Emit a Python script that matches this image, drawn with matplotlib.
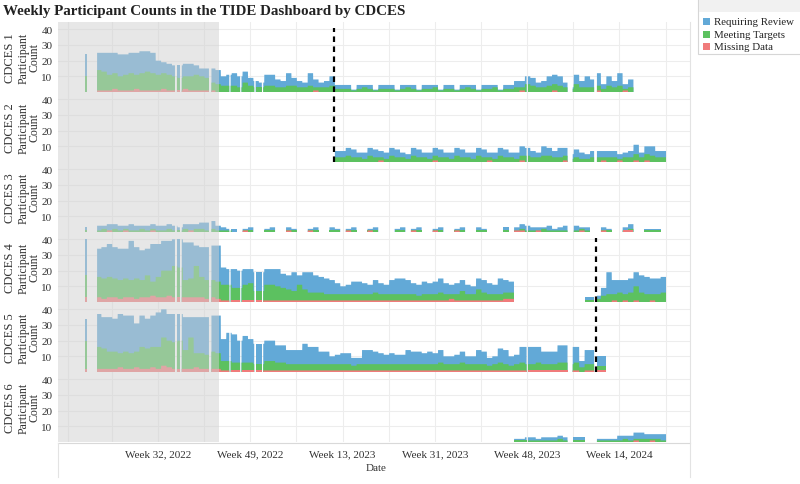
import numpy as np
import matplotlib.pyplot as plt
from matplotlib.patches import Rectangle
from matplotlib.lines import Line2D

plt.rcParams['font.family'] = ['Liberation Serif', 'DejaVu Serif']

# x axis is in weeks counted from the left edge of the view
tick_weeks = [18.4, 35.4, 52.4, 69.4, 86.4, 103.4]
tick_labels = ['Week 32, 2022', 'Week 49, 2022', 'Week 13, 2023',
               'Week 31, 2023', 'Week 48, 2023', 'Week 14, 2024']
grid_weeks = [1.9, 9.9, 18.4, 26.9, 35.4, 43.9, 52.4, 60.9, 69.4, 77.9,
              86.4, 94.9, 103.4, 111.9]
shaded_until = 29.6
# periods without any records (start, end) in weeks
gaps = [(5.35, 7.2), (21.55, 21.9), (22.45, 22.8), (27.8, 28.25), (31.55, 31.8),
        (33.55, 33.8), (36.15, 36.4), (37.55, 37.8), (86.3, 86.55),
        (93.85, 94.8), (98.75, 99.25)]
event_panels = [1, 2, 4, 5]
event_weeks = [50.9, 50.9, 99.1, 99.1]

N = None
# CDCES 1, weekly values from week 5
p1_start = 5
p1_review = [14, N, 11, 12, 14, 13, 14, 13, 13, 14,
             14, 13, 13, 9, 7, 7, 7, 8, 8, 8,
             6, 5, 6, 9, 9, 6, 7, 8, 7, 7,
             5, 4, 3, 7, 7, 5, 4, 8, 5, 4,
             3, 8, 5, 3, 4, 6, 2.5, 2.5, 2.5, 0.5,
             2.5, 1.5, 2.5, 0.5, 2.5, 2.5, 2.5, 0.5, 2.5, 1.5,
             2.5, 0.5, 2.5, 2.5, 1.5, 0.5, 2.5, 2.5, 0.5, 2.5,
             1.5, 2.5, 0.5, 2.5, 2.5, 1.5, 0.5, 2.5, 2.5, 4,
             4, 5, 5, 3, 4, 6, 6, 6, 3, 1,
             6, 4, 7, 5, 8, 3, 6, 4, 8, 3,
             5]
p1_meeting = [10, N, 13, 12, 10, 10, 9, 10, 11, 9,
              11, 12, 11, 10, 10, 10, 9, 8, 8, 9,
              10, 9, 8, 5, 5, 4, 4, 4, 3, 6,
              4, 3, 3, 4, 4, 3, 3, 4, 4, 3,
              3, 4, 2, 3, 3, 4, 2, 2, 2, 1,
              2, 3, 2, 1, 2, 2, 2, 1, 2, 3,
              2, 1, 2, 2, 3, 1, 2, 2, 1, 2,
              3, 2, 1, 2, 2, 3, 1, 2, 2, 3,
              2, 5, 4, 3, 3, 4, 4, 4, 3, 2,
              5, 3, 3, 3, 3, 2, 4, 3, 4, 1,
              3]
p1_missing = [0, N, 1, 1, 1, 2, 1, 1, 1, 2,
              1, 1, 1, 1, 2, 1, 1, 1, 2, 1,
              1, 1, 1, 1, 0, 0, 0, 0, 0, 0,
              0, 0, 0, 0, 0, 0, 0, 0, 0, 0,
              0, 0, 1, 0, 0, 0, 0, 0, 0, 0,
              0, 0, 0, 0, 0, 0, 0, 0, 0, 0,
              0, 0, 0, 0, 0, 0, 0, 0, 0, 0,
              0, 0, 0, 0, 0, 0, 0, 0, 0, 0,
              1, 0, 0, 0, 0, 0, 1, 0, 0, 0,
              0, 0, 0, 0, 1, 0, 0, 0, 0, 1,
              0]

# CDCES 2, from week 51
p2_start = 51
p2_review = [4, 4, 5, 5, 3, 4, 5, 5, 4, 4,
             5, 5, 3, 3, 5, 5, 3, 4, 5, 5,
             3, 4, 5, 5, 3, 4, 5, 5, 3, 4,
             5, 5, 3, 4, 6, 5, 4, 3, 6, 5,
             4, 6, 5, 3, 5, 4, 3, 4, 4, 4,
             4, 4, 3, 3, 4, 6, 3, 5, 6, 4, 4]
p2_meeting = [3, 3, 4, 3, 3, 2, 4, 3, 2, 2,
              4, 3, 3, 2, 4, 3, 3, 2, 3, 3,
              3, 2, 4, 3, 3, 2, 4, 3, 2, 2,
              4, 3, 3, 2, 3, 4, 3, 3, 4, 4,
              3, 3, 3, 2, 3, 2, 2, 3, 3, 2,
              3, 3, 1, 3, 3, 4, 3, 4, 4, 3, 3]
p2_missing = [0, 0, 0, 0, 0, 0, 0, 0, 1, 0,
              0, 0, 0, 0, 0, 0, 0, 0, 1, 0,
              0, 0, 0, 0, 0, 0, 0, 0, 1, 0,
              0, 0, 0, 0, 1, 0, 0, 0, 0, 0,
              0, 0, 1, 0, 0, 0, 0, 0, 0, 1,
              0, 0, 1, 0, 0, 1, 0, 1, 0, 0, 0]

# CDCES 3, from week 5
p3_start = 5
p3_review = [2, N, 3, 2, 4, 3, 3, 2, 4, 3,
             2, 3, 3, 3, 3, 3, 3, 2, 3, 4,
             3, 4, 5, 5, 3, 2, 1, 2, N, 1,
             2, N, N, 1, 2, N, N, 2, 1, N,
             N, 1, 2, N, N, 2, 1, N, 1, 2,
             N, N, 1, 2, N, N, N, 1, 2, N,
             1, 2, N, N, 1, 2, N, N, 1, 2,
             N, N, 2, 1, N, N, N, 2, N, 2,
             3, 3, 2, 2, 1, 3, 1, 2, 3, N,
             3, 1, 2, N, N, 2, 1, N, N, 2,
             3, N, N, 1, 1, 1]
p3_meeting = [1, N, 1, 2, 0, 2, 1, 1, 1, 1,
              2, 1, 1, 1, 1, 2, 1, 1, 2, 0,
              2, 2, 1, 2, 1, 1, 1, 0, N, 0,
              1, N, N, 1, 1, N, N, 0, 1, N,
              N, 0, 1, N, N, 1, 1, N, 0, 1,
              N, N, 0, 1, N, N, N, 1, 1, N,
              0, 1, N, N, 0, 1, N, N, 0, 1,
              N, N, 1, 1, N, N, N, 1, N, 0,
              1, 1, 1, 0, 2, 1, 1, 1, 1, N,
              1, 1, 1, N, N, 0, 1, N, N, 0,
              1, N, N, 1, 1, 1]
p3_missing = [0, N, 0, 0, 1, 0, 0, 1, 0, 0,
              0, 0, 1, 0, 0, 0, 0, 0, 0, 1,
              0, 0, 0, 0, 0, 0, 0, 0, N, 1,
              0, N, N, 0, 0, N, N, 1, 0, N,
              N, 1, 0, N, N, 0, 0, N, 1, 0,
              N, N, 1, 0, N, N, N, 0, 0, N,
              1, 0, N, N, 1, 0, N, N, 1, 0,
              N, N, 0, 0, N, N, N, 0, N, 1,
              1, 0, 0, 1, 0, 0, 0, 0, 0, N,
              0, 1, 0, N, N, 1, 0, N, N, 1,
              1, N, N, 0, 0, 0]

# CDCES 4, from week 5
p4_start = 5
p4_review = [23, N, 18, 20, 21, 20, 20, 19, 25, 20,
             19, 17, 24, 21, 19, 19, 17, 18, 24, 23,
             13, 19, 21, 22, 23, 11, 10, 12, 11, 10,
             9, 12, 12, 10, 10, 11, 9, 9, 12, 6,
             11, 13, 11, 10, 10, 9, 7, 5, 6, 8,
             8, 7, 6, 8, 7, 6, 9, 10, 10, 9,
             7, 7, 8, 7, 8, 9, 7, 6, 7, 7,
             6, 5, 7, 8, 7, 6, 10, 8, 7, N,
             N, N, N, N, N, N, N, N, N, N,
             N, N, 2, 2, 2, 5, 14, 9, 8, 9,
             9, 9, 11, 11, 10, 10, 10]
p4_meeting = [14, N, 13, 13, 13, 12, 12, 12, 11, 13,
              11, 14, 9, 13, 17, 16, 20, 19, 11, 12,
              20, 13, 12, 11, 11, 10, 10, 8, 8, 10,
              11, 6, 6, 10, 10, 9, 8, 7, 6, 10,
              7, 5, 5, 5, 4, 4, 4, 4, 4, 4,
              4, 4, 4, 5, 4, 4, 4, 4, 4, 4,
              4, 3, 4, 4, 4, 5, 4, 3, 4, 6,
              4, 4, 7, 5, 4, 4, 4, 4, 4, N,
              N, N, N, N, N, N, N, N, N, N,
              N, N, 1, 1, 2, 4, 5, 4, 6, 4,
              6, 9, 6, 5, 4, 5, 6]
p4_missing = [3, N, 3, 2, 3, 3, 2, 3, 3, 2,
              3, 3, 4, 3, 3, 4, 3, 3, 3, 3,
              3, 3, 2, 3, 2, 1, 1, 1, 1, 1,
              1, 1, 1, 1, 1, 1, 1, 1, 1, 1,
              1, 1, 1, 1, 1, 1, 1, 1, 1, 1,
              1, 1, 1, 1, 1, 1, 1, 1, 1, 1,
              1, 1, 1, 1, 1, 1, 1, 2, 1, 1,
              1, 1, 1, 1, 1, 1, 1, 2, 2, N,
              N, N, N, N, N, N, N, N, N, N,
              N, N, 0, 0, 0, 0, 0, 1, 0, 1,
              0, 1, 0, 0, 1, 0, 0]

# CDCES 5, from week 5
p5_start = 5
p5_review = [14, N, 21, 20, 22, 21, 25, 23, 24, 18,
             20, 19, 20, 22, 18, 17, 18, 17, 21, 13,
             23, 23, 24, 23, 24, 14, 18, 18, 14, 17,
             15, 13, 13, 13, 13, 11, 11, 9, 9, 9,
             13, 11, 11, 8, 8, 5, 6, 7, 7, 5,
             4, 9, 9, 8, 7, 6, 7, 6, 6, 9,
             8, 8, 7, 8, 7, 8, 5, 5, 6, 7,
             5, 5, 9, 8, 5, 5, 9, 9, 6, 6,
             10, 11, 11, 10, 8, 8, 8, 11, 11, 11,
             10, 4, 9, 9, 6, 6]
p5_meeting = [18, N, 14, 13, 11, 11, 9, 11, 10, 10,
              14, 13, 13, 14, 18, 17, 17, 18, 12, 20,
              9, 10, 9, 11, 10, 6, 6, 5, 5, 5,
              5, 4, 4, 6, 6, 5, 5, 4, 4, 4,
              4, 4, 4, 4, 4, 4, 4, 4, 4, 3,
              4, 4, 4, 4, 4, 4, 4, 4, 4, 4,
              4, 4, 4, 4, 4, 5, 4, 4, 4, 5,
              4, 4, 4, 4, 3, 4, 5, 4, 3, 4,
              5, 4, 4, 5, 4, 4, 4, 5, 5, 4,
              5, 3, 4, 4, 3, 3]
p5_missing = [2, N, 2, 2, 2, 2, 3, 2, 2, 3,
              2, 2, 3, 2, 4, 3, 2, 2, 2, 2,
              3, 2, 2, 2, 2, 1, 1, 1, 1, 1,
              1, 1, 1, 1, 1, 1, 1, 1, 1, 1,
              1, 1, 1, 1, 1, 1, 1, 1, 1, 1,
              1, 1, 1, 1, 1, 1, 1, 1, 1, 1,
              1, 1, 1, 1, 1, 1, 1, 1, 1, 1,
              1, 1, 1, 1, 1, 1, 1, 1, 1, 1,
              1, 1, 1, 1, 1, 1, 1, 1, 1, 1,
              1, 0, 1, 1, 1, 1]

# CDCES 6, from week 84
p6_start = 84
p6_review = [1, 1, 2, 2, 1, 2, 2, 2, 2, 2, 2, 2, 2, N, N,
             1, 1, 1, 1, 3, 2, 3, 4, 4, 3, 3, 3, 4]
p6_meeting = [1, 1, 1, 1, 1, 1, 1, 1, 2, 1, 1, 1, 1, N, N,
              1, 1, 1, 1, 1, 2, 1, 1, 2, 2, 1, 2, 1]
p6_missing = [0, 0, 0, 0, 0, 0, 0, 0, 0, 0, 0, 0, 0, N, N,
              0, 0, 0, 0, 0, 0, 0, 1, 0, 0, 1, 0, 0]

panels = [
    ('CDCES 1', p1_start, p1_review, p1_meeting, p1_missing),
    ('CDCES 2', p2_start, p2_review, p2_meeting, p2_missing),
    ('CDCES 3', p3_start, p3_review, p3_meeting, p3_missing),
    ('CDCES 4', p4_start, p4_review, p4_meeting, p4_missing),
    ('CDCES 5', p5_start, p5_review, p5_meeting, p5_missing),
    ('CDCES 6', p6_start, p6_review, p6_meeting, p6_missing),
]

c_review = '#62a9d7'
c_meeting = '#5cc160'
c_missing = '#f07b7b'

W, H = 800, 485
XMAX = 116.4
YMAX = 44.66

xs = np.arange(0, XMAX, 0.02)
gap_mask = np.zeros(xs.shape, dtype=bool)
for a, b in gaps:
    gap_mask |= (xs > a) & (xs < b)


def weekly(vals, start):
    arr = np.array(vals, dtype=float)
    idx = np.floor(xs + 1e-9).astype(int) - start
    out = np.full(xs.shape, np.nan)
    ok = (idx >= 0) & (idx < len(arr))
    out[ok] = arr[idx[ok]]
    out[gap_mask] = np.nan
    return out


def fx(px):
    return px / W


def fy(py):
    return 1 - py / H


fig = plt.figure(figsize=(8, 4.85), dpi=100)

for i, (name, start, review, meeting, missing) in enumerate(panels):
    top = 23 + 70 * i
    ax = fig.add_axes([fx(58), fy(top + 70), 632 / W, 70 / H])
    miss = weekly(missing, start)
    meet = miss + weekly(meeting, start)
    tot = meet + weekly(review, start)
    zero = np.zeros_like(xs)
    ax.fill_between(xs, zero, tot, color=c_review, lw=0, zorder=2)
    ax.fill_between(xs, zero, meet, color=c_meeting, lw=0, zorder=2)
    ax.fill_between(xs, zero, miss, color=c_missing, lw=0, zorder=2)

    for g in grid_weeks:
        ax.axvline(g, color='#ededed', lw=0.8, zorder=0)
    for yv in [10, 20, 30, 40]:
        ax.axhline(yv, color='#ededed', lw=0.8, zorder=0)

    ax.axvspan(0, shaded_until, facecolor='#d0d0d0', alpha=0.5, lw=0, zorder=3)

    for pnl, wk in zip(event_panels, event_weeks):
        if pnl == i + 1:
            ymax = 0.92 if pnl in (1, 4) else 1.0
            ax.axvline(wk, ymin=0, ymax=ymax, color='black', lw=1.6,
                       ls=(0, (2.5, 2)), zorder=4)

    ax.set_xlim(0, XMAX)
    ax.set_ylim(0, YMAX)
    ax.set_yticks([10, 20, 30, 40])
    ax.set_yticklabels(['10', '20', '30', '40'], fontsize=8, color='#333333')
    ax.tick_params(axis='y', length=0, pad=4)
    if i == len(panels) - 1:
        ax.set_xticks(tick_weeks)
        ax.set_xticklabels(tick_labels, fontsize=8, color='#333333')
        ax.tick_params(axis='x', length=0, pad=5)
    else:
        ax.set_xticks([])
    for s in ax.spines.values():
        s.set_visible(False)

    cy = top + 35
    fig.text(fx(10), fy(cy), name, rotation=90, ha='center', va='center',
             fontsize=9, color='#333333')
    fig.text(fx(29), fy(cy), 'Participant\nCount', rotation=90, ha='center',
             va='center', multialignment='center', fontsize=8.5,
             color='#333333', linespacing=0.95)

# frame lines around the view
fig.add_artist(Line2D([fx(58), fx(690)], [fy(443.5), fy(443.5)], color='#d9d9d9', lw=0.8))
fig.add_artist(Line2D([fx(58), fx(58)], [fy(443.5), fy(478)], color='#e3e3e3', lw=0.8))
fig.add_artist(Line2D([fx(690), fx(690)], [fy(23), fy(478)], color='#e3e3e3', lw=0.8))

fig.text(fx(376), fy(469), 'Date', ha='center', va='center', fontsize=8, color='#333333')
fig.text(fx(3), fy(12), 'Weekly Participant Counts in the TIDE Dashboard by CDCES',
         ha='left', va='center', fontsize=10.8, fontweight='bold', color='#222222')

# legend box
fig.add_artist(Rectangle((fx(698), fy(55)), fx(110), 55 / H, facecolor='white',
                         edgecolor='#d6d6d6', lw=0.8))
fig.add_artist(Rectangle((fx(698.5), fy(13)), fx(110), 13 / H, facecolor='#f1f1f1',
                         edgecolor='none'))
legend_names = ['Requiring Review', 'Meeting Targets', 'Missing Data']
legend_colors = [c_review, c_meeting, c_missing]
for k, (nm, col) in enumerate(zip(legend_names, legend_colors)):
    yc = 22.5 + 12.5 * k
    fig.add_artist(Rectangle((fx(703), fy(yc + 3.5)), fx(7), 7 / H,
                             facecolor=col, edgecolor='none'))
    fig.text(fx(714), fy(yc), nm, ha='left', va='center', fontsize=7.8, color='#222222')

fig.savefig('out.png', dpi=100)
